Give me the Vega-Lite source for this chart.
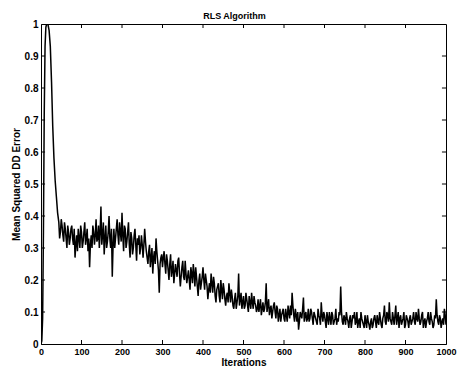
{
  "$schema": "https://vega.github.io/schema/vega-lite/v6.json",
  "width": 405,
  "height": 320,
  "autosize": "none",
  "padding": {"left": 41, "top": 24, "right": 13, "bottom": 27},
  "background": "white",
  "config": {
    "font": "Liberation Sans",
    "view": {"stroke": "black", "strokeWidth": 1},
    "axis": {
      "domainColor": "black",
      "domainWidth": 1,
      "ticks": false,
      "grid": false,
      "labelOverlap": false,
      "labelColor": "black",
      "labelFont": "Liberation Sans",
      "labelFontSize": 10,
      "labelFontWeight": "bold",
      "titleColor": "black",
      "titleFont": "Liberation Sans",
      "titleFontSize": 10,
      "titleFontWeight": "bold"
    }
  },
  "title": {
    "text": "RLS Algorithm",
    "font": "Liberation Sans",
    "fontSize": 9,
    "fontWeight": "bold",
    "color": "black",
    "dx": -9,
    "offset": -2
  },
  "datasets": {
    "xt": [{"t": 100}, {"t": 200}, {"t": 300}, {"t": 400}, {"t": 500}, {"t": 600}, {"t": 700}, {"t": 800}, {"t": 900}],
    "yt": [{"v": 0.1}, {"v": 0.2}, {"v": 0.3}, {"v": 0.4}, {"v": 0.5}, {"v": 0.6}, {"v": 0.7}, {"v": 0.8}, {"v": 0.9}],
    "mse": [
      {"i": 0, "e": 0.0}, {"i": 2, "e": 0.01}, {"i": 4, "e": 0.08}, {"i": 6, "e": 0.35}, {"i": 8, "e": 0.72},
      {"i": 10, "e": 0.93}, {"i": 12, "e": 0.99}, {"i": 14, "e": 1.0}, {"i": 17, "e": 1.0}, {"i": 20, "e": 0.98},
      {"i": 23, "e": 0.93}, {"i": 26, "e": 0.82}, {"i": 29, "e": 0.68}, {"i": 32, "e": 0.58}, {"i": 35, "e": 0.51},
      {"i": 38, "e": 0.46}, {"i": 41, "e": 0.41},
      {"i": 44, "e": 0.38}, {"i": 46, "e": 0.33}, {"i": 48, "e": 0.35}, {"i": 50, "e": 0.39}, {"i": 52, "e": 0.37}, {"i": 54, "e": 0.34},
      {"i": 56, "e": 0.32}, {"i": 58, "e": 0.38}, {"i": 60, "e": 0.36}, {"i": 62, "e": 0.33}, {"i": 64, "e": 0.30}, {"i": 66, "e": 0.37},
      {"i": 68, "e": 0.35}, {"i": 70, "e": 0.31}, {"i": 72, "e": 0.33}, {"i": 74, "e": 0.36}, {"i": 76, "e": 0.37}, {"i": 78, "e": 0.33},
      {"i": 80, "e": 0.31}, {"i": 82, "e": 0.36}, {"i": 84, "e": 0.27}, {"i": 86, "e": 0.31}, {"i": 88, "e": 0.34}, {"i": 90, "e": 0.29},
      {"i": 92, "e": 0.36}, {"i": 94, "e": 0.33}, {"i": 96, "e": 0.30}, {"i": 98, "e": 0.37}, {"i": 100, "e": 0.35}, {"i": 102, "e": 0.30},
      {"i": 104, "e": 0.32}, {"i": 106, "e": 0.35}, {"i": 108, "e": 0.38}, {"i": 110, "e": 0.31}, {"i": 112, "e": 0.33}, {"i": 114, "e": 0.36},
      {"i": 116, "e": 0.29}, {"i": 118, "e": 0.33}, {"i": 120, "e": 0.24}, {"i": 122, "e": 0.31}, {"i": 124, "e": 0.34}, {"i": 126, "e": 0.30},
      {"i": 128, "e": 0.37}, {"i": 130, "e": 0.35}, {"i": 132, "e": 0.31}, {"i": 134, "e": 0.34}, {"i": 136, "e": 0.39}, {"i": 138, "e": 0.32},
      {"i": 140, "e": 0.33}, {"i": 142, "e": 0.37}, {"i": 144, "e": 0.30}, {"i": 146, "e": 0.35}, {"i": 148, "e": 0.43}, {"i": 150, "e": 0.31},
      {"i": 152, "e": 0.34}, {"i": 154, "e": 0.38}, {"i": 156, "e": 0.28}, {"i": 158, "e": 0.33}, {"i": 160, "e": 0.37}, {"i": 162, "e": 0.30},
      {"i": 164, "e": 0.32}, {"i": 166, "e": 0.35}, {"i": 168, "e": 0.40}, {"i": 170, "e": 0.33}, {"i": 172, "e": 0.30}, {"i": 174, "e": 0.36},
      {"i": 176, "e": 0.21}, {"i": 178, "e": 0.31}, {"i": 180, "e": 0.36}, {"i": 182, "e": 0.30}, {"i": 184, "e": 0.33}, {"i": 186, "e": 0.36},
      {"i": 188, "e": 0.39}, {"i": 190, "e": 0.34}, {"i": 192, "e": 0.31}, {"i": 194, "e": 0.38}, {"i": 196, "e": 0.35}, {"i": 198, "e": 0.32},
      {"i": 200, "e": 0.41}, {"i": 202, "e": 0.34}, {"i": 204, "e": 0.29}, {"i": 206, "e": 0.37}, {"i": 208, "e": 0.36}, {"i": 210, "e": 0.30},
      {"i": 212, "e": 0.32}, {"i": 214, "e": 0.35}, {"i": 216, "e": 0.38}, {"i": 218, "e": 0.31}, {"i": 220, "e": 0.27}, {"i": 222, "e": 0.35},
      {"i": 224, "e": 0.33}, {"i": 226, "e": 0.28}, {"i": 228, "e": 0.30}, {"i": 230, "e": 0.34}, {"i": 232, "e": 0.36}, {"i": 234, "e": 0.31},
      {"i": 236, "e": 0.26}, {"i": 238, "e": 0.33}, {"i": 240, "e": 0.31}, {"i": 242, "e": 0.34}, {"i": 244, "e": 0.28}, {"i": 246, "e": 0.30},
      {"i": 248, "e": 0.34}, {"i": 250, "e": 0.31}, {"i": 252, "e": 0.27}, {"i": 254, "e": 0.31}, {"i": 256, "e": 0.36}, {"i": 258, "e": 0.32},
      {"i": 260, "e": 0.29}, {"i": 262, "e": 0.27}, {"i": 264, "e": 0.25}, {"i": 266, "e": 0.29}, {"i": 268, "e": 0.31}, {"i": 270, "e": 0.24},
      {"i": 272, "e": 0.27}, {"i": 274, "e": 0.30}, {"i": 276, "e": 0.22}, {"i": 278, "e": 0.27}, {"i": 280, "e": 0.29}, {"i": 282, "e": 0.25},
      {"i": 284, "e": 0.33}, {"i": 286, "e": 0.29}, {"i": 288, "e": 0.26}, {"i": 290, "e": 0.23}, {"i": 292, "e": 0.16}, {"i": 294, "e": 0.25},
      {"i": 296, "e": 0.27}, {"i": 298, "e": 0.28}, {"i": 300, "e": 0.24}, {"i": 302, "e": 0.27}, {"i": 304, "e": 0.29}, {"i": 306, "e": 0.25},
      {"i": 308, "e": 0.22}, {"i": 310, "e": 0.28}, {"i": 312, "e": 0.26}, {"i": 314, "e": 0.23}, {"i": 316, "e": 0.20}, {"i": 318, "e": 0.25},
      {"i": 320, "e": 0.28}, {"i": 322, "e": 0.21}, {"i": 324, "e": 0.23}, {"i": 326, "e": 0.26}, {"i": 328, "e": 0.19}, {"i": 330, "e": 0.22},
      {"i": 332, "e": 0.25}, {"i": 334, "e": 0.23}, {"i": 336, "e": 0.21}, {"i": 338, "e": 0.26}, {"i": 340, "e": 0.27}, {"i": 342, "e": 0.22},
      {"i": 344, "e": 0.18}, {"i": 346, "e": 0.21}, {"i": 348, "e": 0.24}, {"i": 350, "e": 0.26}, {"i": 352, "e": 0.21}, {"i": 354, "e": 0.20},
      {"i": 356, "e": 0.26}, {"i": 358, "e": 0.22}, {"i": 360, "e": 0.19}, {"i": 362, "e": 0.21}, {"i": 364, "e": 0.23}, {"i": 366, "e": 0.20},
      {"i": 368, "e": 0.17}, {"i": 370, "e": 0.24}, {"i": 372, "e": 0.22}, {"i": 374, "e": 0.19}, {"i": 376, "e": 0.25}, {"i": 378, "e": 0.22},
      {"i": 380, "e": 0.18}, {"i": 382, "e": 0.24}, {"i": 384, "e": 0.21}, {"i": 386, "e": 0.18}, {"i": 388, "e": 0.15}, {"i": 390, "e": 0.20},
      {"i": 392, "e": 0.22}, {"i": 394, "e": 0.17}, {"i": 396, "e": 0.19}, {"i": 398, "e": 0.21}, {"i": 400, "e": 0.24}, {"i": 402, "e": 0.20},
      {"i": 404, "e": 0.17}, {"i": 406, "e": 0.22}, {"i": 408, "e": 0.20}, {"i": 410, "e": 0.18}, {"i": 412, "e": 0.14}, {"i": 414, "e": 0.17},
      {"i": 416, "e": 0.19}, {"i": 418, "e": 0.16}, {"i": 420, "e": 0.22}, {"i": 422, "e": 0.19}, {"i": 424, "e": 0.16}, {"i": 426, "e": 0.21},
      {"i": 428, "e": 0.19}, {"i": 430, "e": 0.15}, {"i": 432, "e": 0.13}, {"i": 434, "e": 0.17}, {"i": 436, "e": 0.18}, {"i": 438, "e": 0.19},
      {"i": 440, "e": 0.15}, {"i": 442, "e": 0.13}, {"i": 444, "e": 0.20}, {"i": 446, "e": 0.17}, {"i": 448, "e": 0.14}, {"i": 450, "e": 0.19},
      {"i": 452, "e": 0.17}, {"i": 454, "e": 0.14}, {"i": 456, "e": 0.12}, {"i": 458, "e": 0.15}, {"i": 460, "e": 0.16}, {"i": 462, "e": 0.13},
      {"i": 464, "e": 0.19}, {"i": 466, "e": 0.16}, {"i": 468, "e": 0.13}, {"i": 470, "e": 0.17}, {"i": 472, "e": 0.15}, {"i": 474, "e": 0.12},
      {"i": 476, "e": 0.11}, {"i": 478, "e": 0.14}, {"i": 480, "e": 0.16}, {"i": 482, "e": 0.11}, {"i": 484, "e": 0.13}, {"i": 486, "e": 0.15},
      {"i": 488, "e": 0.22}, {"i": 490, "e": 0.12}, {"i": 492, "e": 0.14}, {"i": 494, "e": 0.16}, {"i": 496, "e": 0.11}, {"i": 498, "e": 0.13},
      {"i": 500, "e": 0.15}, {"i": 502, "e": 0.11}, {"i": 504, "e": 0.12}, {"i": 506, "e": 0.16}, {"i": 508, "e": 0.14}, {"i": 510, "e": 0.12},
      {"i": 512, "e": 0.10}, {"i": 514, "e": 0.15}, {"i": 516, "e": 0.13}, {"i": 518, "e": 0.11}, {"i": 520, "e": 0.16}, {"i": 522, "e": 0.13},
      {"i": 524, "e": 0.11}, {"i": 526, "e": 0.15}, {"i": 528, "e": 0.13}, {"i": 530, "e": 0.12}, {"i": 532, "e": 0.10}, {"i": 534, "e": 0.11},
      {"i": 536, "e": 0.14}, {"i": 538, "e": 0.10}, {"i": 540, "e": 0.12}, {"i": 542, "e": 0.14}, {"i": 544, "e": 0.09}, {"i": 546, "e": 0.11},
      {"i": 548, "e": 0.13}, {"i": 550, "e": 0.10}, {"i": 552, "e": 0.11}, {"i": 554, "e": 0.13}, {"i": 556, "e": 0.19}, {"i": 558, "e": 0.10},
      {"i": 560, "e": 0.12}, {"i": 562, "e": 0.14}, {"i": 564, "e": 0.09}, {"i": 566, "e": 0.11}, {"i": 568, "e": 0.12}, {"i": 570, "e": 0.08},
      {"i": 572, "e": 0.10}, {"i": 574, "e": 0.12}, {"i": 576, "e": 0.13}, {"i": 578, "e": 0.10}, {"i": 580, "e": 0.08}, {"i": 582, "e": 0.12},
      {"i": 584, "e": 0.11}, {"i": 586, "e": 0.07}, {"i": 588, "e": 0.09}, {"i": 590, "e": 0.11}, {"i": 592, "e": 0.07}, {"i": 594, "e": 0.09},
      {"i": 596, "e": 0.10}, {"i": 598, "e": 0.11}, {"i": 600, "e": 0.08}, {"i": 602, "e": 0.07}, {"i": 604, "e": 0.11}, {"i": 606, "e": 0.09},
      {"i": 608, "e": 0.07}, {"i": 610, "e": 0.12}, {"i": 612, "e": 0.10}, {"i": 614, "e": 0.08}, {"i": 616, "e": 0.12}, {"i": 618, "e": 0.09},
      {"i": 620, "e": 0.16}, {"i": 622, "e": 0.12}, {"i": 624, "e": 0.09}, {"i": 626, "e": 0.07}, {"i": 628, "e": 0.11}, {"i": 630, "e": 0.09},
      {"i": 632, "e": 0.07}, {"i": 634, "e": 0.10}, {"i": 636, "e": 0.045}, {"i": 638, "e": 0.07}, {"i": 640, "e": 0.10}, {"i": 642, "e": 0.09},
      {"i": 644, "e": 0.08}, {"i": 646, "e": 0.11}, {"i": 648, "e": 0.145}, {"i": 650, "e": 0.07}, {"i": 652, "e": 0.09}, {"i": 654, "e": 0.10},
      {"i": 656, "e": 0.07}, {"i": 658, "e": 0.08}, {"i": 660, "e": 0.11}, {"i": 662, "e": 0.07}, {"i": 664, "e": 0.08}, {"i": 666, "e": 0.11},
      {"i": 668, "e": 0.10}, {"i": 670, "e": 0.08}, {"i": 672, "e": 0.06}, {"i": 674, "e": 0.10}, {"i": 676, "e": 0.09}, {"i": 678, "e": 0.08},
      {"i": 680, "e": 0.07}, {"i": 682, "e": 0.06}, {"i": 684, "e": 0.11}, {"i": 686, "e": 0.09}, {"i": 688, "e": 0.08}, {"i": 690, "e": 0.06},
      {"i": 692, "e": 0.13}, {"i": 694, "e": 0.09}, {"i": 696, "e": 0.07}, {"i": 698, "e": 0.10}, {"i": 700, "e": 0.09}, {"i": 702, "e": 0.07},
      {"i": 704, "e": 0.05}, {"i": 706, "e": 0.10}, {"i": 708, "e": 0.08}, {"i": 710, "e": 0.06}, {"i": 712, "e": 0.10}, {"i": 714, "e": 0.08},
      {"i": 716, "e": 0.06}, {"i": 718, "e": 0.10}, {"i": 720, "e": 0.09}, {"i": 722, "e": 0.06}, {"i": 724, "e": 0.07}, {"i": 726, "e": 0.08},
      {"i": 728, "e": 0.11}, {"i": 730, "e": 0.06}, {"i": 732, "e": 0.08}, {"i": 734, "e": 0.07}, {"i": 736, "e": 0.10}, {"i": 738, "e": 0.09},
      {"i": 740, "e": 0.18}, {"i": 742, "e": 0.10}, {"i": 744, "e": 0.07}, {"i": 746, "e": 0.06}, {"i": 748, "e": 0.09}, {"i": 750, "e": 0.08},
      {"i": 752, "e": 0.06}, {"i": 754, "e": 0.10}, {"i": 756, "e": 0.08}, {"i": 758, "e": 0.07}, {"i": 760, "e": 0.05}, {"i": 762, "e": 0.08},
      {"i": 764, "e": 0.09}, {"i": 766, "e": 0.05}, {"i": 768, "e": 0.07}, {"i": 770, "e": 0.09}, {"i": 772, "e": 0.08}, {"i": 774, "e": 0.10},
      {"i": 776, "e": 0.06}, {"i": 778, "e": 0.07}, {"i": 780, "e": 0.10}, {"i": 782, "e": 0.05}, {"i": 784, "e": 0.07}, {"i": 786, "e": 0.08},
      {"i": 788, "e": 0.05}, {"i": 790, "e": 0.10}, {"i": 792, "e": 0.08}, {"i": 794, "e": 0.07}, {"i": 796, "e": 0.06}, {"i": 798, "e": 0.05},
      {"i": 800, "e": 0.09}, {"i": 802, "e": 0.07}, {"i": 804, "e": 0.05}, {"i": 806, "e": 0.09}, {"i": 808, "e": 0.07}, {"i": 810, "e": 0.06},
      {"i": 812, "e": 0.045}, {"i": 814, "e": 0.07}, {"i": 816, "e": 0.08}, {"i": 818, "e": 0.05}, {"i": 820, "e": 0.06}, {"i": 822, "e": 0.08},
      {"i": 824, "e": 0.09}, {"i": 826, "e": 0.07}, {"i": 828, "e": 0.05}, {"i": 830, "e": 0.09}, {"i": 832, "e": 0.07}, {"i": 834, "e": 0.06},
      {"i": 836, "e": 0.10}, {"i": 838, "e": 0.08}, {"i": 840, "e": 0.06}, {"i": 842, "e": 0.05}, {"i": 844, "e": 0.08}, {"i": 846, "e": 0.09},
      {"i": 848, "e": 0.12}, {"i": 850, "e": 0.07}, {"i": 852, "e": 0.06}, {"i": 854, "e": 0.10}, {"i": 856, "e": 0.09}, {"i": 858, "e": 0.07},
      {"i": 860, "e": 0.13}, {"i": 862, "e": 0.08}, {"i": 864, "e": 0.07}, {"i": 866, "e": 0.06}, {"i": 868, "e": 0.10}, {"i": 870, "e": 0.08},
      {"i": 872, "e": 0.06}, {"i": 874, "e": 0.09}, {"i": 876, "e": 0.12}, {"i": 878, "e": 0.06}, {"i": 880, "e": 0.08}, {"i": 882, "e": 0.10},
      {"i": 884, "e": 0.05}, {"i": 886, "e": 0.08}, {"i": 888, "e": 0.09}, {"i": 890, "e": 0.06}, {"i": 892, "e": 0.07}, {"i": 894, "e": 0.08},
      {"i": 896, "e": 0.10}, {"i": 898, "e": 0.05}, {"i": 900, "e": 0.06}, {"i": 902, "e": 0.09}, {"i": 904, "e": 0.08}, {"i": 906, "e": 0.07},
      {"i": 908, "e": 0.05}, {"i": 910, "e": 0.08}, {"i": 912, "e": 0.09}, {"i": 914, "e": 0.06}, {"i": 916, "e": 0.07}, {"i": 918, "e": 0.08},
      {"i": 920, "e": 0.10}, {"i": 922, "e": 0.07}, {"i": 924, "e": 0.06}, {"i": 926, "e": 0.10}, {"i": 928, "e": 0.08}, {"i": 930, "e": 0.07},
      {"i": 932, "e": 0.11}, {"i": 934, "e": 0.08}, {"i": 936, "e": 0.06}, {"i": 938, "e": 0.07}, {"i": 940, "e": 0.09}, {"i": 942, "e": 0.10},
      {"i": 944, "e": 0.05}, {"i": 946, "e": 0.07}, {"i": 948, "e": 0.08}, {"i": 950, "e": 0.05}, {"i": 952, "e": 0.07}, {"i": 954, "e": 0.08},
      {"i": 956, "e": 0.10}, {"i": 958, "e": 0.07}, {"i": 960, "e": 0.06}, {"i": 962, "e": 0.10}, {"i": 964, "e": 0.08}, {"i": 966, "e": 0.07},
      {"i": 968, "e": 0.05}, {"i": 970, "e": 0.06}, {"i": 972, "e": 0.09}, {"i": 974, "e": 0.08}, {"i": 976, "e": 0.14}, {"i": 978, "e": 0.09},
      {"i": 980, "e": 0.07}, {"i": 982, "e": 0.06}, {"i": 984, "e": 0.09}, {"i": 986, "e": 0.08}, {"i": 988, "e": 0.05}, {"i": 990, "e": 0.07},
      {"i": 992, "e": 0.08}, {"i": 994, "e": 0.06}, {"i": 996, "e": 0.11}, {"i": 998, "e": 0.09}, {"i": 1000, "e": 0.06}
    ]
  },
  "layer": [
    {
      "data": {"name": "mse"},
      "mark": {"type": "line", "color": "black", "strokeWidth": 1.5, "clip": true},
      "encoding": {
        "x": {
          "field": "i", "type": "quantitative",
          "scale": {"domain": [0, 1000], "nice": false, "zero": false},
          "axis": {"orient": "bottom", "title": "Iterations", "values": [0, 100, 200, 300, 400, 500, 600, 700, 800, 900, 1000], "format": "d", "labelFontSize": 9, "labelPadding": 3, "titlePadding": 1, "labelFlush": false}
        },
        "y": {
          "field": "e", "type": "quantitative",
          "scale": {"domain": [0, 1], "nice": false},
          "axis": {"orient": "left", "title": "Mean Squared DD Error", "values": [0, 0.1, 0.2, 0.3, 0.4, 0.5, 0.6, 0.7, 0.8, 0.9, 1], "format": "~g", "labelPadding": 3, "titlePadding": 3, "labelFlush": false}
        }
      }
    },
    {
      "data": {"name": "xt"},
      "mark": {"type": "rule", "color": "black", "strokeWidth": 1},
      "encoding": {
        "x": {"field": "t", "type": "quantitative",
          "axis": {"orient": "bottom", "title": "Iterations", "values": [0, 100, 200, 300, 400, 500, 600, 700, 800, 900, 1000], "format": "d", "labelFontSize": 9, "labelPadding": 3, "titlePadding": 1, "labelFlush": false}},
        "y": {"datum": 0,
          "axis": {"orient": "left", "title": "Mean Squared DD Error", "values": [0, 0.1, 0.2, 0.3, 0.4, 0.5, 0.6, 0.7, 0.8, 0.9, 1], "format": "~g", "labelPadding": 3, "titlePadding": 3, "labelFlush": false}},
        "y2": {"datum": 0.0125}
      }
    },
    {
      "data": {"name": "xt"},
      "mark": {"type": "rule", "color": "black", "strokeWidth": 1},
      "encoding": {
        "x": {"field": "t", "type": "quantitative",
          "axis": {"orient": "bottom", "title": "Iterations", "values": [0, 100, 200, 300, 400, 500, 600, 700, 800, 900, 1000], "format": "d", "labelFontSize": 9, "labelPadding": 3, "titlePadding": 1, "labelFlush": false}},
        "y": {"datum": 0.9875,
          "axis": {"orient": "left", "title": "Mean Squared DD Error", "values": [0, 0.1, 0.2, 0.3, 0.4, 0.5, 0.6, 0.7, 0.8, 0.9, 1], "format": "~g", "labelPadding": 3, "titlePadding": 3, "labelFlush": false}},
        "y2": {"datum": 1}
      }
    },
    {
      "data": {"name": "yt"},
      "mark": {"type": "rule", "color": "black", "strokeWidth": 1},
      "encoding": {
        "y": {"field": "v", "type": "quantitative",
          "axis": {"orient": "left", "title": "Mean Squared DD Error", "values": [0, 0.1, 0.2, 0.3, 0.4, 0.5, 0.6, 0.7, 0.8, 0.9, 1], "format": "~g", "labelPadding": 3, "titlePadding": 3, "labelFlush": false}},
        "x": {"datum": 0,
          "axis": {"orient": "bottom", "title": "Iterations", "values": [0, 100, 200, 300, 400, 500, 600, 700, 800, 900, 1000], "format": "d", "labelFontSize": 9, "labelPadding": 3, "titlePadding": 1, "labelFlush": false}},
        "x2": {"datum": 10}
      }
    },
    {
      "data": {"name": "yt"},
      "mark": {"type": "rule", "color": "black", "strokeWidth": 1},
      "encoding": {
        "y": {"field": "v", "type": "quantitative",
          "axis": {"orient": "left", "title": "Mean Squared DD Error", "values": [0, 0.1, 0.2, 0.3, 0.4, 0.5, 0.6, 0.7, 0.8, 0.9, 1], "format": "~g", "labelPadding": 3, "titlePadding": 3, "labelFlush": false}},
        "x": {"datum": 990,
          "axis": {"orient": "bottom", "title": "Iterations", "values": [0, 100, 200, 300, 400, 500, 600, 700, 800, 900, 1000], "format": "d", "labelFontSize": 9, "labelPadding": 3, "titlePadding": 1, "labelFlush": false}},
        "x2": {"datum": 1000}
      }
    }
  ]
}
